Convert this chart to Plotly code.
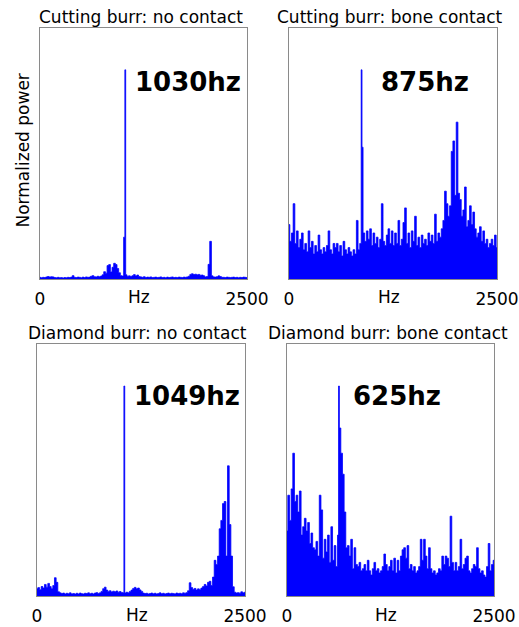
import plotly.graph_objects as go

# Power spectra of a burr, normalised so each spectrum's dominant peak = 100
BIN_HZ = 20  # spacing of the tabulated spectrum values, 0 .. 2500 Hz

titles = ["Cutting burr: no contact", "Cutting burr: bone contact",
          "Diamond burr: no contact", "Diamond burr: bone contact"]
peak_labels = ["1030hz", "875hz", "1049hz", "625hz"]
peak_hz = [1030, 875, 1049, 625]
peak_power = [100, 100, 100, 100]

x_tick_vals = [0, 2500]
x_tick_text = ["0", "2500"]
x_unit = "Hz"
x_unit_pos = 1200
y_title = "Normalized power"

cutting_no_contact = [
    0.8, 0.6, 0.8, 0.7, 1.0, 1.2, 0.9, 1.1, 1.0, 0.7,
    0.6, 0.8, 0.6, 0.7, 0.5, 0.7, 0.6, 0.8, 0.7, 0.9,
    1.6, 0.8, 0.7, 0.9, 0.8, 0.6, 0.9, 0.7, 1.0, 0.8,
    0.9, 1.3, 1.6, 1.1, 1.0, 1.3, 1.1, 1.4, 2.0, 3.5,
    2.8, 6.4, 6.9, 3.4, 5.6, 7.5, 6.9, 5.0, 3.0, 1.6,
    1.4, 20, 2.0, 1.3, 1.5, 1.2, 1.6, 2.1, 1.4, 1.9,
    1.2, 1.0, 0.8, 1.1, 0.7, 0.9, 0.8, 1.0, 0.7, 0.8,
    0.9, 0.7, 0.8, 1.0, 0.7, 0.8, 0.6, 0.9, 0.7, 0.8,
    1.0, 0.7, 0.8, 0.7, 0.9, 0.8, 0.7, 0.9, 0.8, 1.0,
    1.3, 2.2, 2.5, 2.1, 2.3, 2.0, 2.2, 1.8, 1.9, 1.5,
    1.0, 1.2, 7.0, 18, 1.5, 1.0, 0.9, 1.1, 1.5, 1.2,
    0.8, 0.8, 0.7, 0.9, 0.8, 0.7, 0.8, 0.9, 0.7, 0.8,
    0.6, 0.8, 0.7, 0.9, 0.8, 0.7,
]

cutting_bone_contact = [
    26, 18, 22, 36, 17, 23, 15, 19, 22, 14,
    17, 13, 23, 15, 18, 12, 16, 13, 21, 14,
    12, 15, 13, 16, 23, 14, 12, 17, 15, 17,
    13, 16, 11, 18, 14, 12, 15, 13, 11, 14,
    12, 28, 14, 17, 63, 22, 18, 23, 19, 24,
    16, 22, 17, 20, 15, 19, 36, 18, 16, 21,
    24, 17, 23, 16, 22, 17, 28, 16, 19, 27,
    34, 17, 22, 15, 23, 18, 30, 16, 20, 15,
    21, 17, 19, 16, 22, 18, 21, 17, 31, 18,
    22, 20, 24, 28, 42, 36, 30, 35, 61, 66,
    40, 75, 41, 38, 30, 33, 44, 25, 28, 35,
    26, 32, 24, 20, 22, 25, 18, 23, 17, 19,
    15, 17, 19, 16, 21, 15,
]

diamond_no_contact = [
    3.5, 4.0, 3.0, 4.5, 3.8, 5.5, 4.2, 6.0, 4.5, 3.5,
    5.0, 8.7, 6.5, 2.0, 1.5, 1.2, 1.4, 1.0, 1.3, 1.1,
    1.5, 1.0, 1.2, 0.9, 1.3, 1.0, 1.4, 1.1, 1.0, 1.3,
    1.2, 1.5, 1.1, 1.3, 1.0, 1.4, 1.6, 1.2, 1.5, 2.2,
    3.5, 4.2, 2.8, 2.2, 2.5, 1.9, 2.3, 2.0, 2.4, 1.8,
    2.1, 1.7, 1.5, 1.4, 1.8, 1.5, 2.2, 2.8, 3.6, 4.1,
    3.4, 3.8, 2.9, 2.2, 1.4, 1.2, 1.3, 1.0, 1.2, 1.4,
    1.1, 1.3, 1.0, 1.2, 1.5, 1.1, 1.3, 1.0, 1.2, 1.4,
    1.1, 1.3, 1.2, 1.0, 1.4, 1.2, 1.3, 1.1, 1.5, 1.3,
    1.6, 2.5, 6.3, 4.0, 3.2, 3.6, 2.8, 3.4, 3.0, 3.8,
    4.5, 5.5, 4.8, 6.5, 7.0, 5.0, 9.0, 17, 15, 19,
    32, 36, 44, 45, 19, 62, 34, 19, 4.4, 1.8,
    1.4, 1.6, 1.3, 2.0, 1.5, 1.8,
]

diamond_bone_contact = [
    31, 48, 36, 51, 68, 45, 48, 40, 50, 29,
    33, 37, 31, 35, 25, 30, 23, 22, 26, 19,
    48, 41, 18, 27, 21, 29, 16, 33, 17, 24,
    14, 29, 80, 68, 58, 40, 23, 24, 19, 27,
    13, 23, 15, 14, 16, 12, 13, 15, 12, 17,
    12, 10, 13, 16, 12, 13, 11, 12, 14, 20,
    15, 12, 14, 17, 12, 18, 11, 17, 12, 19,
    22, 23, 18, 24, 13, 15, 12, 14, 11, 12,
    14, 27, 17, 27, 19, 13, 23, 13, 11, 12,
    10, 11, 13, 12, 19, 15, 19, 18, 14, 38,
    16, 12, 16, 12, 14, 27, 13, 15, 18, 19,
    12, 11, 13, 15, 14, 23, 13, 11, 12, 10,
    9, 14, 25, 12, 15, 17,
]

spectra = [cutting_no_contact, cutting_bone_contact,
           diamond_no_contact, diamond_bone_contact]

# ---- page geometry (pixels) ----
W, H = 519, 627
# plot frames: (left, right, top, bottom)
frames = [(40, 247, 28, 279), (289, 497, 28, 279),
          (37, 245, 344, 596), (287, 494, 344, 596)]
title_pos = [(140.5, 16.8), (389.5, 16.8), (137.8, 333.1), (387.5, 333.1)]
label_pos = [(133, 82), (379, 82), (132, 396), (351, 396)]

FONT = "DejaVu Sans"
BLUE = "rgb(0,0,255)"
FRAME = "#8a8a8a"


def fx(x):
    return x / W


def fy(y):
    return 1 - y / H


fig = go.Figure()
annotations = []

for k, values in enumerate(spectra):
    freqs = [BIN_HZ * i for i in range(len(values))]
    pts = sorted(zip(freqs + [peak_hz[k]], values + [peak_power[k]]))
    xs = [p[0] for p in pts]
    ys = [p[1] for p in pts]
    sfx = "" if k == 0 else str(k + 1)
    fig.add_trace(go.Scatter(
        x=xs, y=ys, xaxis="x" + sfx, yaxis="y" + sfx,
        mode="lines", line=dict(color=BLUE, width=0.8, shape="hvh"),
        fill="tozeroy", fillcolor=BLUE, showlegend=False,
        hoverinfo="skip",
    ))
    l, r, t, b = frames[k]
    fig.layout["xaxis" + sfx] = dict(
        domain=[fx(l), fx(r)], anchor="y" + sfx, range=[0, 2500],
        showgrid=False, zeroline=False, showline=True, mirror=True,
        linecolor=FRAME, linewidth=1, automargin=False,
        tickmode="array", tickvals=x_tick_vals, ticktext=x_tick_text,
        ticks="outside", ticklen=5, tickcolor="rgba(0,0,0,0)",
        tickfont=dict(family=FONT, size=17, color="black"),
    )
    fig.layout["yaxis" + sfx] = dict(
        domain=[fy(b), fy(t)], anchor="x" + sfx, range=[0, 120],
        showgrid=False, zeroline=False, showline=True, mirror=True,
        linecolor=FRAME, linewidth=1, showticklabels=False, ticks="",
        automargin=False,
    )
    tx, ty = title_pos[k]
    annotations.append(dict(
        text=titles[k], xref="paper", yref="paper", x=fx(tx), y=fy(ty),
        xanchor="center", yanchor="middle", showarrow=False,
        font=dict(family=FONT, size=17, color="black"),
    ))
    lx, ly = label_pos[k]
    annotations.append(dict(
        text="<b>" + peak_labels[k] + "</b>", xref="paper", yref="paper",
        x=fx(lx), y=fy(ly), xanchor="left", yanchor="middle",
        showarrow=False, font=dict(family=FONT, size=26, color="black"),
    ))
    annotations.append(dict(
        text=x_unit, xref="x" + sfx, yref="paper", x=x_unit_pos,
        y=fy(b + 18.5), xanchor="center", yanchor="middle",
        showarrow=False, font=dict(family=FONT, size=17, color="black"),
    ))

annotations.append(dict(
    text=y_title, xref="paper", yref="paper", x=fx(22.5), y=fy(151),
    xanchor="center", yanchor="middle", textangle=-90, showarrow=False,
    font=dict(family=FONT, size=17, color="black"),
))

fig.update_layout(
    width=W, height=H, autosize=False,
    margin=dict(l=0, r=0, t=0, b=0, pad=0, autoexpand=False),
    paper_bgcolor="white", plot_bgcolor="white",
    annotations=annotations,
)

fig.write_html(
    "out.html",
    config={"responsive": False, "displayModeBar": False},
    post_script="document.body.style.margin='0';"
                "document.body.style.overflow='hidden';",
)
